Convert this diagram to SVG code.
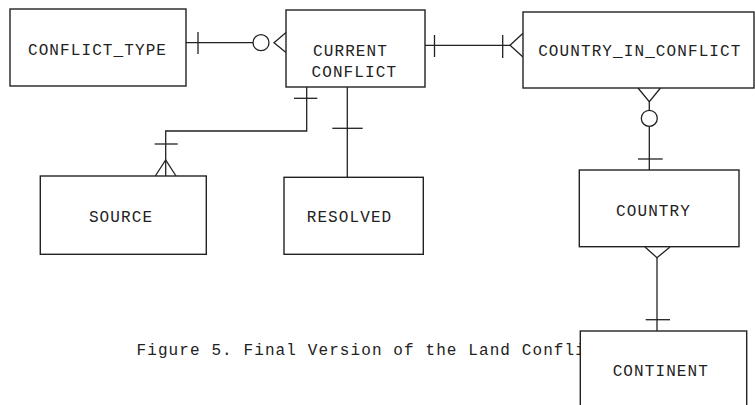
<svg xmlns="http://www.w3.org/2000/svg" width="755" height="405" viewBox="0 0 755 405">
<style>
rect.box{fill:#fff;stroke:#222;stroke-width:1.4}
text{font-family:"Liberation Mono","DejaVu Sans Mono",monospace;font-size:16px;letter-spacing:1.1px;fill:#222}
text.c{text-anchor:middle}
.ln{fill:none;stroke:#222;stroke-width:1.3}
</style>
<rect width="755" height="405" fill="#fff"/>
<text id="caption" x="136.5" y="355">Figure 5. Final Version of the Land Confli</text>
<g id="connectors" class="ln">
  <!-- CONFLICT_TYPE - CURRENT CONFLICT -->
  <line x1="186" y1="42.7" x2="253" y2="42.7"/>
  <line x1="198" y1="32" x2="198" y2="54"/>
  <circle cx="261" cy="42.7" r="8"/>
  <polyline points="286,32.5 274,42.7 286,52.5"/>
  <!-- CURRENT CONFLICT - COUNTRY_IN_CONFLICT -->
  <line x1="425" y1="45.3" x2="510" y2="45.3"/>
  <line x1="434.5" y1="35" x2="434.5" y2="57"/>
  <line x1="502.7" y1="35" x2="502.7" y2="58"/>
  <polyline points="523,33.3 510,45.3 523,57"/>
  <!-- COUNTRY_IN_CONFLICT - COUNTRY -->
  <polyline points="638,88 649.3,101.7 660.5,88"/>
  <line x1="649.3" y1="101.7" x2="649.3" y2="110.3"/>
  <circle cx="649.3" cy="118.3" r="8"/>
  <line x1="649.3" y1="126.3" x2="649.3" y2="170"/>
  <line x1="638" y1="159" x2="662.7" y2="159"/>
  <!-- COUNTRY - CONTINENT -->
  <polyline points="645,247 657,257.7 670,247"/>
  <line x1="657" y1="257.7" x2="657" y2="331"/>
  <line x1="645.7" y1="319.7" x2="670" y2="319.7"/>
  <!-- CURRENT CONFLICT - SOURCE -->
  <polyline points="306.7,87 306.7,131 165.7,131 165.7,176"/>
  <line x1="294" y1="98.3" x2="317.3" y2="98.3"/>
  <line x1="154.7" y1="144" x2="177.7" y2="144"/>
  <polyline points="155.3,176 165.7,160 176,176"/>
  <!-- CURRENT CONFLICT - RESOLVED -->
  <line x1="347.3" y1="87" x2="347.3" y2="177.3"/>
  <line x1="332.3" y1="128.3" x2="362.7" y2="128.3"/>
</g>
<g id="conflict_type">
  <rect class="box" x="10" y="9" width="176" height="77"/>
  <text class="c" x="97.5" y="55">CONFLICT_TYPE</text>
</g>
<g id="current_conflict">
  <rect class="box" x="286" y="10" width="139" height="77"/>
  <text class="c" x="350.5" y="55.7">CURRENT</text>
  <text class="c" x="354.3" y="77.3">CONFLICT</text>
</g>
<g id="country_in_conflict">
  <rect class="box" x="523" y="12" width="231" height="76"/>
  <text class="c" x="639.8" y="56">COUNTRY_IN_CONFLICT</text>
</g>
<g id="country">
  <rect class="box" x="579.3" y="170" width="159.7" height="76.7"/>
  <text class="c" x="653.5" y="216">COUNTRY</text>
</g>
<g id="continent">
  <rect class="box" x="580.3" y="331" width="166.4" height="80"/>
  <text class="c" x="660.8" y="375.7">CONTINENT</text>
</g>
<g id="source">
  <rect class="box" x="40.3" y="176" width="166" height="78.3"/>
  <text class="c" x="121" y="221.7">SOURCE</text>
</g>
<g id="resolved">
  <rect class="box" x="284" y="177.3" width="139.3" height="77"/>
  <text class="c" x="349.5" y="221.7">RESOLVED</text>
</g>
</svg>
